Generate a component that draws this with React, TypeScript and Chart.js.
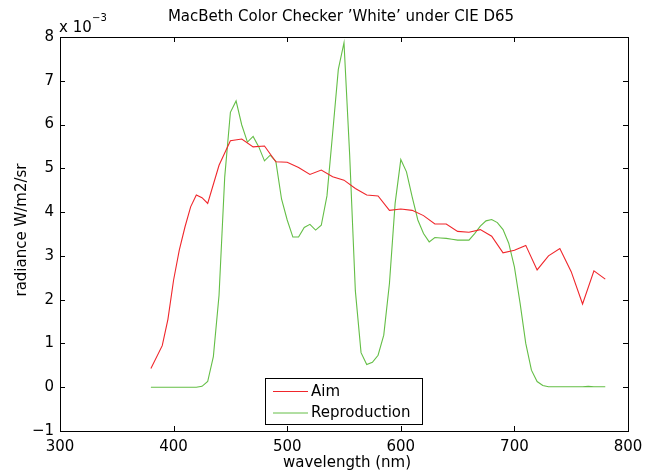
import React, { useEffect, useRef } from "react";
import { Chart, registerables } from "chart.js";

Chart.register(...registerables);

const TITLE = "MacBeth Color Checker \u2019White\u2019 under CIE D65";
const X_LABEL = "wavelength (nm)";
const Y_LABEL = "radiance W/m2/sr";
const X_TICKS = [300, 400, 500, 600, 700, 800];
const Y_TICKS = [-1, 0, 1, 2, 3, 4, 5, 6, 7, 8];

const aimWavelengths = [
  380, 390, 395, 400, 405, 410, 415, 420, 425, 430, 440, 450, 460, 470, 480, 490,
  500, 510, 520, 530, 540, 550, 560, 570, 580, 590, 600, 610, 620, 630, 640, 650,
  660, 670, 680, 690, 700, 710, 720, 730, 740, 750, 760, 770, 780,
];
const aimValues = [
  0.43, 0.95, 1.55, 2.45, 3.13, 3.66, 4.12, 4.39, 4.33, 4.2, 5.07, 5.63, 5.67, 5.49, 5.51, 5.15,
  5.14, 5.02, 4.86, 4.96, 4.81, 4.73, 4.54, 4.39, 4.37, 4.04, 4.07, 4.04, 3.92, 3.73, 3.73, 3.56,
  3.54, 3.6, 3.45, 3.07, 3.13, 3.24, 2.68, 3.0, 3.17, 2.64, 1.9, 2.66, 2.47,
];

const reproWavelengths = [
  380, 385, 390, 395, 400, 405, 410, 415, 420, 425, 430, 435, 440, 445, 450, 455,
  460, 465, 470, 475, 480, 485, 490, 495, 500, 505, 510, 515, 520, 525, 530, 535,
  540, 545, 550, 555, 560, 565, 570, 575, 580, 585, 590, 595, 600, 605, 610, 615,
  620, 625, 630, 635, 640, 645, 650, 655, 660, 665, 670, 675, 680, 685, 690, 695,
  700, 705, 710, 715, 720, 725, 730, 735, 740, 745, 750, 755, 760, 765, 770, 775, 780,
];
const reproValues = [
  0.0, 0.0, 0.0, 0.0, 0.0, 0.0, 0.0, 0.0, 0.0, 0.02, 0.13, 0.7, 2.1, 4.8, 6.28, 6.54,
  5.99, 5.6, 5.73, 5.49, 5.17, 5.3, 5.16, 4.3, 3.82, 3.43, 3.43, 3.65, 3.72, 3.59, 3.7, 4.37,
  5.8, 7.26, 7.87, 5.3, 2.2, 0.79, 0.52, 0.57, 0.73, 1.19, 2.37, 4.2, 5.2, 4.92, 4.35, 3.82,
  3.51, 3.32, 3.42, 3.41, 3.4, 3.38, 3.36, 3.36, 3.36, 3.51, 3.68, 3.8, 3.83, 3.76, 3.6, 3.29,
  2.75, 1.92, 1.0, 0.39, 0.13, 0.04, 0.01, 0.01, 0.01, 0.01, 0.01, 0.01, 0.01, 0.02, 0.01, 0.01, 0.01,
];

const FONT = "'DejaVu Sans', sans-serif";

const framePlugin = {
  id: "matlabFrame",
  afterDraw(chart: any) {
    const { ctx, chartArea, scales } = chart;
    const { left, right, top, bottom } = chartArea;
    ctx.save();
    ctx.strokeStyle = "#000";
    ctx.lineWidth = 1;
    ctx.strokeRect(left + 0.5, top + 0.5, right - left, bottom - top);
    const tl = 5;
    ctx.beginPath();
    X_TICKS.forEach((v) => {
      const px = Math.round(scales.x.getPixelForValue(v)) + 0.5;
      ctx.moveTo(px, bottom);
      ctx.lineTo(px, bottom - tl);
      ctx.moveTo(px, top);
      ctx.lineTo(px, top + tl);
    });
    Y_TICKS.forEach((v) => {
      const py = Math.round(scales.y.getPixelForValue(v)) + 0.5;
      ctx.moveTo(left, py);
      ctx.lineTo(left + tl, py);
      ctx.moveTo(right, py);
      ctx.lineTo(right - tl, py);
    });
    ctx.stroke();

    // Title
    ctx.fillStyle = "#000";
    ctx.font = "15px " + FONT;
    ctx.textAlign = "center";
    ctx.textBaseline = "alphabetic";
    ctx.fillText(TITLE, 341, 21);

    // X label
    ctx.fillText(X_LABEL, 347, 467);

    // Y label
    ctx.save();
    ctx.translate(26, 230);
    ctx.rotate(-Math.PI / 2);
    ctx.textBaseline = "alphabetic";
    ctx.fillText(Y_LABEL, 0, 0);
    ctx.restore();

    // Exponent
    ctx.textAlign = "left";
    ctx.font = "15px " + FONT;
    ctx.fillText("x 10", 59, 32);
    ctx.font = "10px " + FONT;
    ctx.fillText("\u22123", 92, 21);

    // Legend
    const lx = 265.5, ly = 378.5, lw = 157, lh = 46;
    ctx.fillStyle = "#fff";
    ctx.fillRect(lx, ly, lw, lh);
    ctx.strokeStyle = "#000";
    ctx.lineWidth = 1;
    ctx.strokeRect(lx, ly, lw, lh);
    const rows = [391, 412.5];
    chart.data.datasets.forEach((ds: any, i: number) => {
      const y = rows[i];
      ctx.strokeStyle = ds.borderColor;
      ctx.lineWidth = 1;
      ctx.beginPath();
      ctx.moveTo(273, y + 0.5);
      ctx.lineTo(308, y + 0.5);
      ctx.stroke();
      ctx.fillStyle = "#000";
      ctx.font = "15px " + FONT;
      ctx.textAlign = "left";
      ctx.textBaseline = "middle";
      ctx.fillText(ds.label, 311, y + 1);
    });
    ctx.restore();
  },
};

export default function App() {
  const ref = useRef<HTMLCanvasElement | null>(null);
  useEffect(() => {
    if (!ref.current) return;
    const chart = new Chart(ref.current, {
      type: "line",
      data: {
        datasets: [
          {
            label: "Aim",
            data: aimWavelengths.map((x, i) => ({ x, y: aimValues[i] })),
            borderColor: "rgb(240,38,43)",
            borderWidth: 1.1,
            pointRadius: 0,
            tension: 0,
            fill: false,
          },
          {
            label: "Reproduction",
            data: reproWavelengths.map((x, i) => ({ x, y: reproValues[i] })),
            borderColor: "rgb(100,190,70)",
            borderWidth: 1.1,
            pointRadius: 0,
            tension: 0,
            fill: false,
          },
        ],
      },
      options: {
        responsive: false,
        animation: false,
        devicePixelRatio: 1,
        layout: { padding: { top: 37, right: 30, left: 0, bottom: 0 } },
        plugins: { legend: { display: false }, title: { display: false }, tooltip: { enabled: false } },
        scales: {
          x: {
            type: "linear",
            min: 300,
            max: 800,
            afterFit: (s: any) => { s.height = 45; },
            afterBuildTicks: (s: any) => { s.ticks = X_TICKS.map((v) => ({ value: v })); },
            grid: { display: false, drawTicks: false },
            border: { display: false },
            ticks: { color: "#000", font: { family: FONT, size: 15 }, padding: 7, maxRotation: 0 },
          },
          y: {
            type: "linear",
            min: -1,
            max: 8,
            afterFit: (s: any) => { s.width = 60; },
            afterBuildTicks: (s: any) => { s.ticks = Y_TICKS.map((v) => ({ value: v })); },
            grid: { display: false, drawTicks: false },
            border: { display: false },
            ticks: {
              color: "#000",
              font: { family: FONT, size: 15 },
              padding: 6,
              callback: (v: any) => String(v).replace("-", "\u2212"),
            },
          },
        },
      },
      plugins: [framePlugin],
    });
    return () => chart.destroy();
  }, []);
  return (
    <div style={{ position: "absolute", left: 0, top: 0, width: 658, height: 476, background: "#fff" }}>
      <canvas ref={ref} width={658} height={476} />
    </div>
  );
}
